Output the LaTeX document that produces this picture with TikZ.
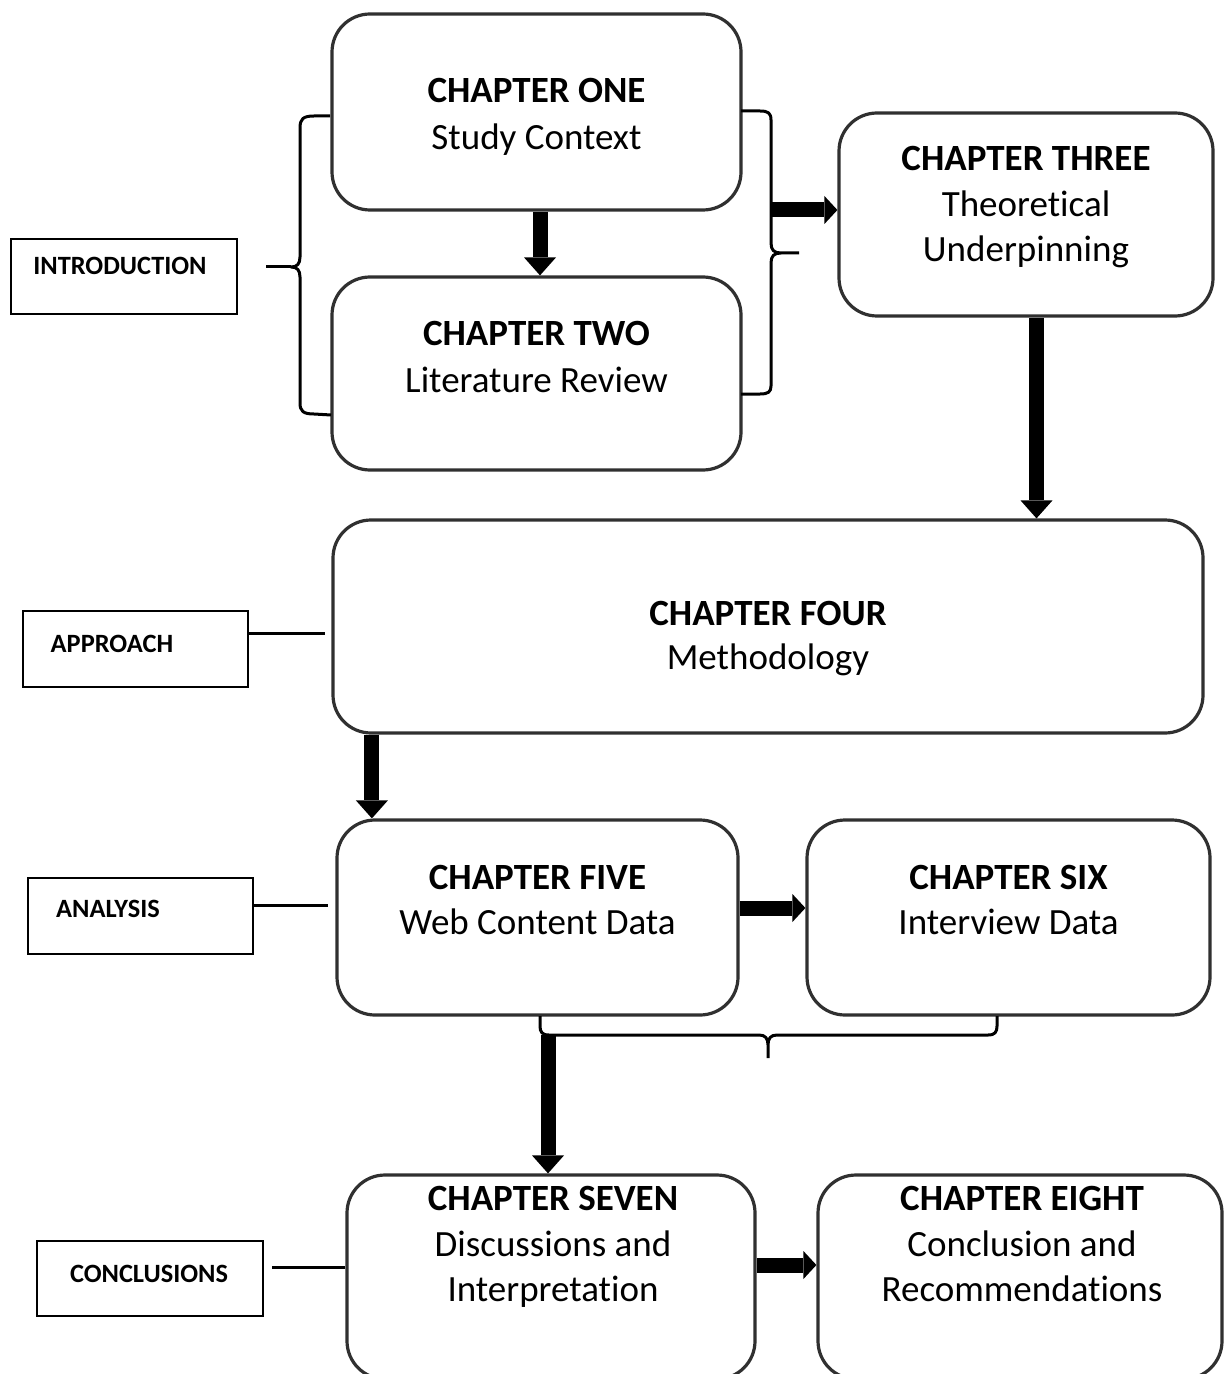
\documentclass[tikz,border=0pt]{standalone}
\usepackage{fontspec}
\setmainfont{Carlito}[Ligatures=NoCommon]
\usetikzlibrary{arrows.meta}
\definecolor{boxline}{RGB}{48,48,48}
\begin{document}
\begin{tikzpicture}[x=0.5pt,y=-0.5pt,
  chbox/.style={draw=boxline, line width=1.6pt, rounded corners=19pt, inner sep=0pt, fill=white},
  tagbox/.style={draw=black, line width=1.2pt, inner sep=0pt, fill=white},
  head/.style={font=\bfseries\fontsize{18.5}{22}\selectfont, anchor=base, inner sep=0pt},
  body/.style={font=\fontsize{18.5}{22}\selectfont, anchor=base, inner sep=0pt},
  tag/.style={font=\bfseries\fontsize{13.2}{16}\selectfont, anchor=base, inner sep=0pt},
  link/.style={line width=1.5pt, black},
  brace/.style={line width=1.5pt, black, line join=round},
  fatv/.style={line width=7.5pt, black, -{Triangle[width=16pt,length=9pt,line width=0pt]}},
  fath/.style={line width=7.5pt, black, -{Triangle[width=14pt,length=6.5pt,line width=0pt]}}
]
\path[use as bounding box, fill=white] (0,0) rectangle (1224,1374);
\clip (0,0) rectangle (1224,1374);

% chapter boxes
\node[chbox, minimum width=204.5pt, minimum height=98pt]   (ch1) at (536.5,112) {};
\node[chbox, minimum width=204.5pt, minimum height=96.5pt] (ch2) at (536.5,373.5) {};
\node[chbox, minimum width=187pt,   minimum height=101.5pt] (ch3) at (1026,214.5) {};
\node[chbox, minimum width=435pt,   minimum height=106.5pt] (ch4) at (768,626.5) {};
\node[chbox, minimum width=200.5pt, minimum height=97.5pt] (ch5) at (537.5,917.5) {};
\node[chbox, minimum width=201.5pt, minimum height=97.5pt] (ch6) at (1008.5,917.5) {};
\node[chbox, minimum width=204pt,   minimum height=102pt]  (ch7) at (551,1277) {};
\node[chbox, minimum width=202pt,   minimum height=102pt]  (ch8) at (1020,1277) {};

% chapter texts
\node[head] (t1a) at (536.5,103) {CHAPTER ONE};
\node[body] (t1b) at (536.5,150) {Study Context};
\node[head] (t2a) at (536.5,345) {CHAPTER TWO};
\node[body] (t2b) at (536.5,392) {Literature Review};
\node[head] (t3a) at (1026,171) {CHAPTER THREE};
\node[body] (t3b) at (1026,217) {Theoretical};
\node[body] (t3c) at (1026,262) {Underpinning};
\node[head] (t4a) at (768,625) {CHAPTER FOUR};
\node[body] (t4b) at (768,669) {Methodology};
\node[head] (t5a) at (537.5,889) {CHAPTER FIVE};
\node[body] (t5b) at (537.5,934) {Web Content Data};
\node[head] (t6a) at (1008.5,889) {CHAPTER SIX};
\node[body] (t6b) at (1008.5,934) {Interview Data};
\node[head] (t7a) at (553,1210) {CHAPTER SEVEN};
\node[body] (t7b) at (553,1256) {Discussions and};
\node[body] (t7c) at (553,1301) {Interpretation};
\node[head] (t8a) at (1022,1210) {CHAPTER EIGHT};
\node[body] (t8b) at (1022,1256) {Conclusion and};
\node[body] (t8c) at (1022,1301) {Recommendations};

% part labels
\node[tagbox, minimum width=113pt,   minimum height=37.5pt] (intro) at (124,276.5) {};
\node[tagbox, minimum width=112.5pt, minimum height=38pt]   (appr)  at (135.5,649) {};
\node[tagbox, minimum width=112.5pt, minimum height=38pt]   (anal)  at (140.5,916) {};
\node[tagbox, minimum width=113pt,   minimum height=37.5pt] (concl) at (150,1278.5) {};
\node[tag] (introT) at (120,275)  {INTRODUCTION};
\node[tag] (apprT)  at (112,652)  {APPROACH};
\node[tag] (analT)  at (108,917)  {ANALYSIS};
\node[tag] (conclT) at (149,1282) {CONCLUSIONS};

% braces
\draw[brace] (330,116) -- (314,116) .. controls (303,116) and (300,119) .. (300,128)
  -- (300,257) .. controls (300,264) and (297,267) .. (291,267)
  .. controls (297,267) and (300,270) .. (300,277)
  -- (300,403) .. controls (300,411) and (303,414) .. (314,414) -- (331,415);
\draw[brace] (741,111) -- (760,111) .. controls (768,111) and (771,113) .. (771,120)
  -- (771,243) .. controls (771,250) and (774,253) .. (781,253) -- (799,253)
  (781,253) .. controls (774,253) and (771,256) .. (771,263)
  -- (771,386) .. controls (771,392) and (768,394) .. (760,394) -- (741,394);
\draw[brace] (540,1016) -- (540,1026) .. controls (540,1032) and (542,1035) .. (549,1035)
  -- (759,1035) .. controls (765,1035) and (768,1038) .. (768,1045) -- (768,1058)
  (768,1045) .. controls (768,1038) and (771,1035) .. (777,1035)
  -- (988,1035) .. controls (995,1035) and (997,1032) .. (997,1026) -- (997,1016);

% label connectors
\coordinate (introL) at (266,267);
\coordinate (lbTip)  at (291,267);
\draw[link] (introL) -- (lbTip);
\coordinate (apprL) at (325,633);
\draw[link] (apprL -| appr.east) -- (apprL);
\coordinate (anL) at (328,905);
\draw[link] (anL -| anal.east) -- (anL);
\coordinate (cnL) at (272,1267);
\draw[link] (cnL) -- (cnL -| ch7.west);

% flow arrows
\draw[fatv] ([xshift=1.75pt]ch1.south) -- ([xshift=1.75pt]ch2.north);
\coordinate (rbA) at (771,210);
\draw[fath] (rbA) -- (rbA -| ch3.west);
\draw[fatv] ([xshift=5.25pt]ch3.south) -- ([xshift=5.25pt]ch3.south |- ch4.north);
\draw[fatv] ([xshift=20.25pt]ch4.south west) -- ([xshift=20.25pt]ch4.south west |- ch5.north);
\draw[fath] ([yshift=4.75pt]ch5.east) -- ([yshift=4.75pt]ch5.east -| ch6.west);
\coordinate (bbA) at (548,1035);
\draw[fatv] (bbA) -- (bbA |- ch7.north);
\draw[fath] ([yshift=6pt]ch7.east) -- ([yshift=6pt]ch7.east -| ch8.west);
\end{tikzpicture}
\end{document}
